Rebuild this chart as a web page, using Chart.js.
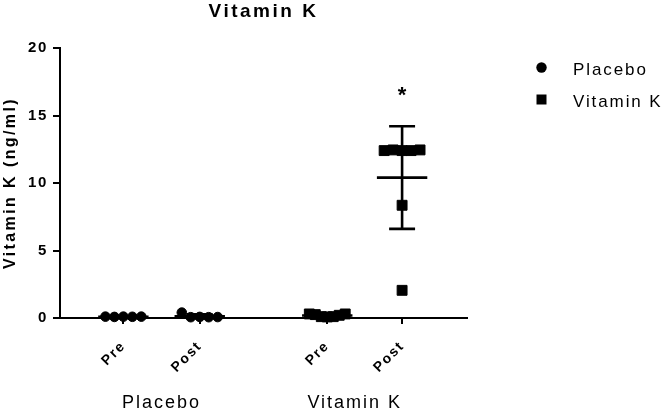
<!DOCTYPE html>
<html>
<head>
<meta charset="utf-8">
<script src="https://cdn.jsdelivr.net/npm/chart.js@4.4.1/dist/chart.umd.min.js"></script>
<style>
  body { margin: 0; background: #fff; }
  canvas { display: block; }
</style>
</head>
<body>
<canvas id="myChart" width="666" height="411"></canvas>
<script>
// values
const xTickLabels = ['Pre', 'Post', 'Pre', 'Post'];
const groupNames = ['Placebo', 'Vitamin K'];
const yTicks = [0, 5, 10, 15, 20];
const yTitle = 'Vitamin K (ng/ml)';

const placeboPre = [0.1, 0.08, 0.1, 0.09, 0.1];
const placeboPost = [0.4, 0.06, 0.08, 0.06, 0.07];
const vitKPre = [0.3, 0.25, 0.1, 0.08, 0.1, 0.2, 0.3];
const vitKPost = [12.4, 12.45, 12.4, 12.4, 12.45, 8.35, 2.05];

// mean and SD per column (Placebo Pre, Placebo Post, Vit K Pre, Vit K Post)
const means = [0.09, 0.13, 0.19, 10.4];
const sds = [0.01, 0.15, 0.1, 3.8];
// significance marks per column
const starMarks = [null, null, null, '*'];
const starValues = [null, null, null, 16.8];

// layout
const FONT = '"Liberation Sans", Arial, sans-serif';
const colX = [1, 2, 3.67, 4.65];
const groupCentre = [1.5, 4.03];

// points with about the same value sit side by side, like a Prism dot plot
function spread(values, cx) {
  let rows = [];
  values.forEach(function(v, i) {
    let row = rows.find(function(r) { return Math.abs(r.v - v) < 0.75; });
    if (!row) { row = { v: v, idx: [] }; rows.push(row); }
    row.idx.push(i);
  });
  let pts = [];
  rows.forEach(function(r) {
    let n = r.idx.length;
    let step = n > 1 ? Math.min(0.47 / (n - 1), 0.12) : 0;
    r.idx.forEach(function(i, k) {
      pts.push({ x: cx + (k - (n - 1) / 2) * step, y: values[i] });
    });
  });
  return pts;
}

// mean line + SD whiskers, split by null gaps
function errorBars() {
  let pts = [];
  means.forEach(function(m, i) {
    let c = colX[i], s = sds[i];
    pts.push({ x: c - 0.33, y: m }, { x: c + 0.33, y: m }, { x: c, y: null });
    pts.push({ x: c, y: m - s }, { x: c, y: m + s }, { x: c, y: null });
    pts.push({ x: c - 0.17, y: m + s }, { x: c + 0.17, y: m + s }, { x: c, y: null });
    pts.push({ x: c - 0.17, y: m - s }, { x: c + 0.17, y: m - s }, { x: c, y: null });
  });
  return pts;
}

const extras = {
  id: 'extras',
  beforeDraw(chart) {
    chart.ctx.letterSpacing = '1.6px';
  },
  afterDraw(chart) {
    const ctx = chart.ctx;
    const xs = chart.scales.x, ys = chart.scales.y, area = chart.chartArea;
    ctx.save();
    ctx.fillStyle = '#000';

    // title
    ctx.font = 'bold 19px ' + FONT;
    ctx.letterSpacing = '2.5px';
    ctx.textAlign = 'center';
    ctx.textBaseline = 'alphabetic';
    ctx.fillText('Vitamin K', (area.left + area.right) / 2, 17);

    // y axis title
    ctx.save();
    ctx.font = 'bold 16px ' + FONT;
    ctx.letterSpacing = '2.4px';
    ctx.textBaseline = 'middle';
    ctx.translate(11, (area.top + area.bottom) / 2);
    ctx.rotate(-Math.PI / 2);
    ctx.fillText(yTitle, 0, 0);
    ctx.restore();

    // group names under the ticks
    ctx.font = '18px ' + FONT;
    ctx.letterSpacing = '2px';
    groupNames.forEach(function(g, i) {
      ctx.fillText(g, xs.getPixelForValue(groupCentre[i]), 408);
    });

    // asterisk
    ctx.font = 'bold 22px ' + FONT;
    ctx.letterSpacing = '0px';
    starMarks.forEach(function(s, i) {
      if (!s) return;
      let m = ctx.measureText(s);
      let cy = ys.getPixelForValue(starValues[i]);
      ctx.fillText(s, xs.getPixelForValue(colX[i]), cy + (m.actualBoundingBoxAscent - m.actualBoundingBoxDescent) / 2);
    });

    // legend
    ctx.font = '17px ' + FONT;
    ctx.letterSpacing = '1.9px';
    ctx.textAlign = 'left';
    let rowsY = [68, 100];
    chart.data.datasets.filter(function(d) { return d.inLegend; }).forEach(function(d, i) {
      let y = rowsY[i];
      ctx.beginPath();
      if (d.pointStyle === 'circle') {
        ctx.arc(541.5, y - 0.5, 5.2, 0, Math.PI * 2);
      } else {
        ctx.rect(536.5, y - 5.5, 10, 10);
      }
      ctx.fill();
      ctx.fillText(d.label, 573, y + 6.5);
    });
    ctx.restore();
  }
};

const ThisChart = document.getElementById('myChart');
const dots = new Chart(ThisChart, {
  type: 'scatter',
  data: {
    datasets: [
      {
        label: 'SD',
        data: errorBars(),
        showLine: true,
        spanGaps: false,
        borderColor: '#000',
        borderWidth: 2.6,
        borderCapStyle: 'butt',
        pointRadius: 0,
        clip: false
      },
      {
        label: 'Placebo',
        inLegend: true,
        data: spread(placeboPre, colX[0]).concat(spread(placeboPost, colX[1])),
        pointStyle: 'circle',
        pointRadius: 4.8,
        pointBackgroundColor: '#000',
        pointBorderColor: '#000',
        pointBorderWidth: 1,
        clip: false
      },
      {
        label: 'Vitamin K',
        inLegend: true,
        data: spread(vitKPre, colX[2]).concat(spread(vitKPost, colX[3])),
        pointStyle: 'rect',
        pointRadius: 7,
        pointBackgroundColor: '#000',
        pointBorderColor: '#000',
        pointBorderWidth: 1,
        clip: false
      }
    ]
  },
  options: {
    responsive: false,
    animation: false,
    devicePixelRatio: 1,
    layout: { padding: { top: 48, right: 199, left: 0, bottom: 0 } },
    plugins: {
      legend: { display: false },
      tooltip: { enabled: false },
      title: { display: false }
    },
    scales: {
      x: {
        type: 'linear',
        min: 0.17,
        max: 5.5,
        afterFit: function(scale) { scale.height = 93; },
        afterBuildTicks: function(scale) {
          scale.ticks = colX.map(function(v) { return { value: v }; });
        },
        ticks: {
          autoSkip: false,
          minRotation: 45,
          maxRotation: 45,
          padding: 14,
          color: '#000',
          font: { family: FONT, size: 14, weight: 'bold' },
          callback: function(value, index) { return xTickLabels[index]; }
        },
        grid: { drawOnChartArea: false, drawTicks: true, tickLength: 6, color: '#000', lineWidth: 2 },
        border: { display: true, color: '#000', width: 2 }
      },
      y: {
        min: 0,
        max: 20,
        afterFit: function(scale) { scale.width = 60; },
        afterBuildTicks: function(scale) {
          scale.ticks = yTicks.map(function(v) { return { value: v }; });
        },
        ticks: {
          padding: 5,
          color: '#000',
          font: { family: FONT, size: 15, weight: 'bold' }
        },
        title: { display: false },
        grid: { drawOnChartArea: false, drawTicks: true, tickLength: 7, color: '#000', lineWidth: 2 },
        border: { display: true, color: '#000', width: 2 }
      }
    }
  },
  plugins: [extras]
});
</script>
</body>
</html>
